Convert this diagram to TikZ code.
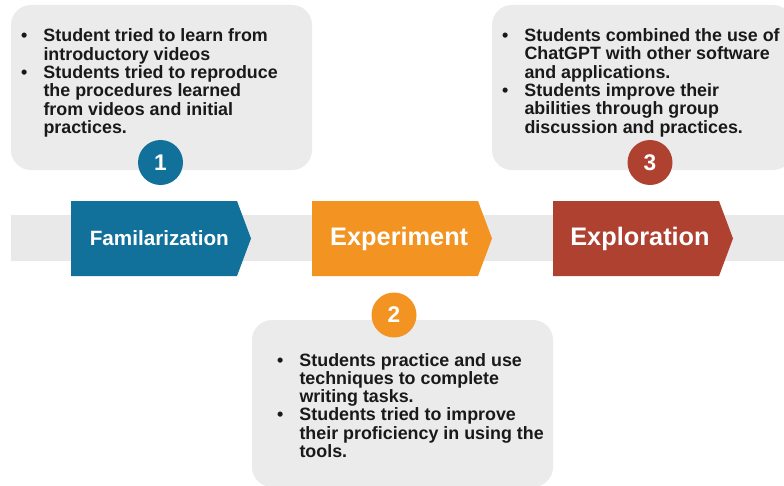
\documentclass[tikz,border=0pt]{standalone}
\usepackage{fontspec}
\setmainfont{Liberation Sans}
\usetikzlibrary{positioning}
\definecolor{famblue}{RGB}{18,113,154}
\definecolor{exporange}{RGB}{243,147,34}
\definecolor{explred}{RGB}{175,65,49}
\definecolor{boxgray}{RGB}{235,235,235}
\definecolor{bandgray}{RGB}{233,233,233}
\definecolor{inktext}{RGB}{25,25,25}

\begin{document}
\begin{tikzpicture}[x=0.75pt,y=0.75pt,yscale=-1,xscale=1,
  infobox/.style={fill=boxgray, rounded corners=15pt, minimum width=225.75pt, minimum height=123.75pt, inner sep=0pt},
  numdot/.style={circle, minimum size=33.75pt, inner sep=0pt, text=white, font=\bfseries\fontsize{17}{17}\selectfont},
  itemtext/.style={anchor=base west, inner sep=0pt, text=inktext, font=\bfseries\fontsize{13.4}{13.3}\selectfont},
  stagetext/.style={anchor=base, text=white, inner sep=0pt, font=\bfseries\fontsize{19}{19}\selectfont}]
\clip (0,0) rectangle (784,485);
\fill[white] (0,0) rectangle (784,485);

%Band
\fill[bandgray] (10.7,215) rectangle (784,261);
%Chevrons
\foreach \xl/\col in {71/famblue, 312/exporange, 553/explred}
  \fill[\col] (\xl,201) -- (\xl+166,201) -- (\xl+180,238.5) -- (\xl+166,276) -- (\xl,276) -- cycle;

% Stage labels
\node[stagetext, font=\bfseries\fontsize{15.5}{15.5}\selectfont] (famil) at (159.3,245) {Familarization};
\node[stagetext] (exper) at (399.2,245) {Experiment};
\node[stagetext] (explo) at (640,245) {Exploration};

%Boxes
\node[infobox] (box1) at (161.5,87.5) {};
\node[infobox] (box3) at (642.5,87.5) {};
\node[infobox, minimum height=125.25pt] (box2) at (402.5,403.5) {};

%Numbers
\node[numdot, fill=famblue] (num1) at (160.5,162.5) {1};
\node[numdot, fill=exporange] (num2) at (394,315) {2};
\node[numdot, fill=explred] (num3) at (650,162.5) {3};

% Text Node
\node[itemtext] (items1) at (20.85,42) {\begin{tabular}[t]{@{}l@{\hspace{12.1pt}}l@{}}
\textbullet & Student tried to learn from\\
 & introductory videos\\
\textbullet & Students tried to reproduce\\
 & the procedures learned\\
 & from videos and initial\\
 & practices.
\end{tabular}};
% Text Node
\node[itemtext] (items2) at (276.85,366) {\begin{tabular}[t]{@{}l@{\hspace{12.1pt}}l@{}}
\textbullet & Students practice and use\\
 & techniques to complete\\
 & writing tasks.\\
\textbullet & Students tried to improve\\
 & their proficiency in using the\\
 & tools.
\end{tabular}};
% Text Node
\node[itemtext] (items3) at (501.85,41.7) {\begin{tabular}[t]{@{}l@{\hspace{12.1pt}}l@{}}
\textbullet & Students combined the use of\\
 & ChatGPT with other software\\
 & and applications.\\
\textbullet & Students improve their\\
 & abilities through group\\
 & discussion and practices.
\end{tabular}};
\end{tikzpicture}
\end{document}
